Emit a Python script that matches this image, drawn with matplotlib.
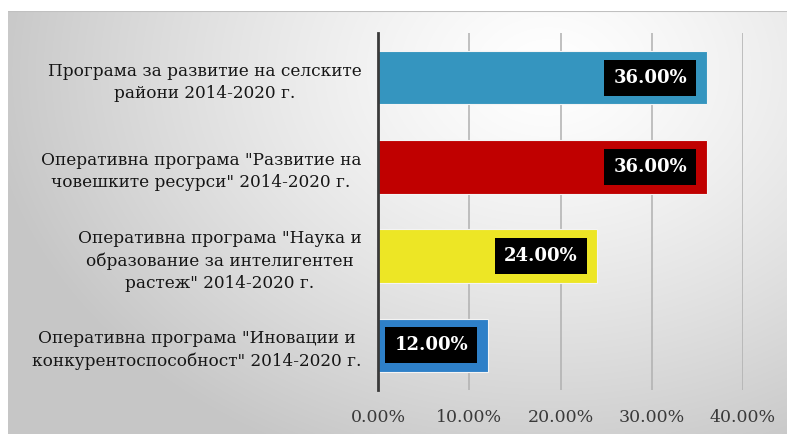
import numpy as np
import matplotlib
matplotlib.use('Agg')
import matplotlib.pyplot as plt
from matplotlib.ticker import FuncFormatter

plt.rcParams['font.family'] = ['DejaVu Serif']

# data (top to bottom)
categories = [
    'Програма за развитие на селските\nрайони 2014-2020 г.',
    'Оперативна програма "Развитие на\nчовешките ресурси" 2014-2020 г.',
    'Оперативна програма "Наука и\nобразование за интелигентен\nрастеж" 2014-2020 г.',
    'Оперативна програма "Иновации и\nконкурентоспособност" 2014-2020 г.',
]
values = [0.36, 0.36, 0.24, 0.12]
colors = ['#3595BF', '#C00000', '#EDE625', '#2E80C8']
xticks = [0.0, 0.1, 0.2, 0.3, 0.4]

W, H = 787, 434
fig = plt.figure(figsize=(W / 100, H / 100), dpi=100)

# radial gradient background
bg = fig.add_axes([8 / W, 0, 1 - 8 / W, 1 - 11 / H])
bg.set_axis_off()
yy, xx = np.mgrid[0:423, 0:779]
cx, cy = 540, 60
d = np.sqrt(((xx - cx) / 560) ** 2 + ((yy - cy) / 420) ** 2)
d = np.clip(d, 0, 1)
shade = 1.0 - 0.22 * d ** 1.3
img = np.dstack([shade, shade, shade])
bg.imshow(img, aspect='auto', extent=[0, 1, 0, 1], origin='upper')
bg.axhline(1, color='#c0c0c0', lw=1.5)

ax = fig.add_axes([378 / W, 1 - 390 / H, (743 - 378) / W, (390 - 33) / H])
ax.patch.set_alpha(0)

y = np.arange(len(values))
ax.barh(y, values, height=0.6, color=colors, edgecolor='#f4f4f4', linewidth=0.8, zorder=3)

ax.set_xlim(0, 0.4)
ax.set_ylim(len(values) - 0.5, -0.5)
ax.set_xticks(xticks)
ax.xaxis.set_major_formatter(FuncFormatter(lambda v, p: f'{v * 100:.2f}%'))
ax.grid(axis='x', color='#b0b0b0', lw=1.1, zorder=1)
ax.tick_params(axis='x', length=0, pad=14, labelsize=12.5, labelcolor='#3a3a3a')
ax.tick_params(axis='y', length=0, pad=12, labelsize=12.2, labelcolor='#151515')
ax.set_yticks(y)
ax.set_yticklabels(categories, multialignment='center', linespacing=1.42)
for s in ['top', 'right', 'bottom']:
    ax.spines[s].set_visible(False)
ax.spines['left'].set_color('#3a3a3a')
ax.spines['left'].set_linewidth(2)
ax.spines['left'].set_zorder(4)

for i, v in enumerate(values):
    ax.annotate(f'{v * 100:.2f}%', xy=(v, i), xytext=(-14, 0), textcoords='offset points',
                ha='right', va='center', color='white', fontsize=13, fontweight='bold',
                bbox=dict(boxstyle='square,pad=0.5', fc='black', ec='none'), zorder=5)

fig.savefig('out.png', dpi=100)
